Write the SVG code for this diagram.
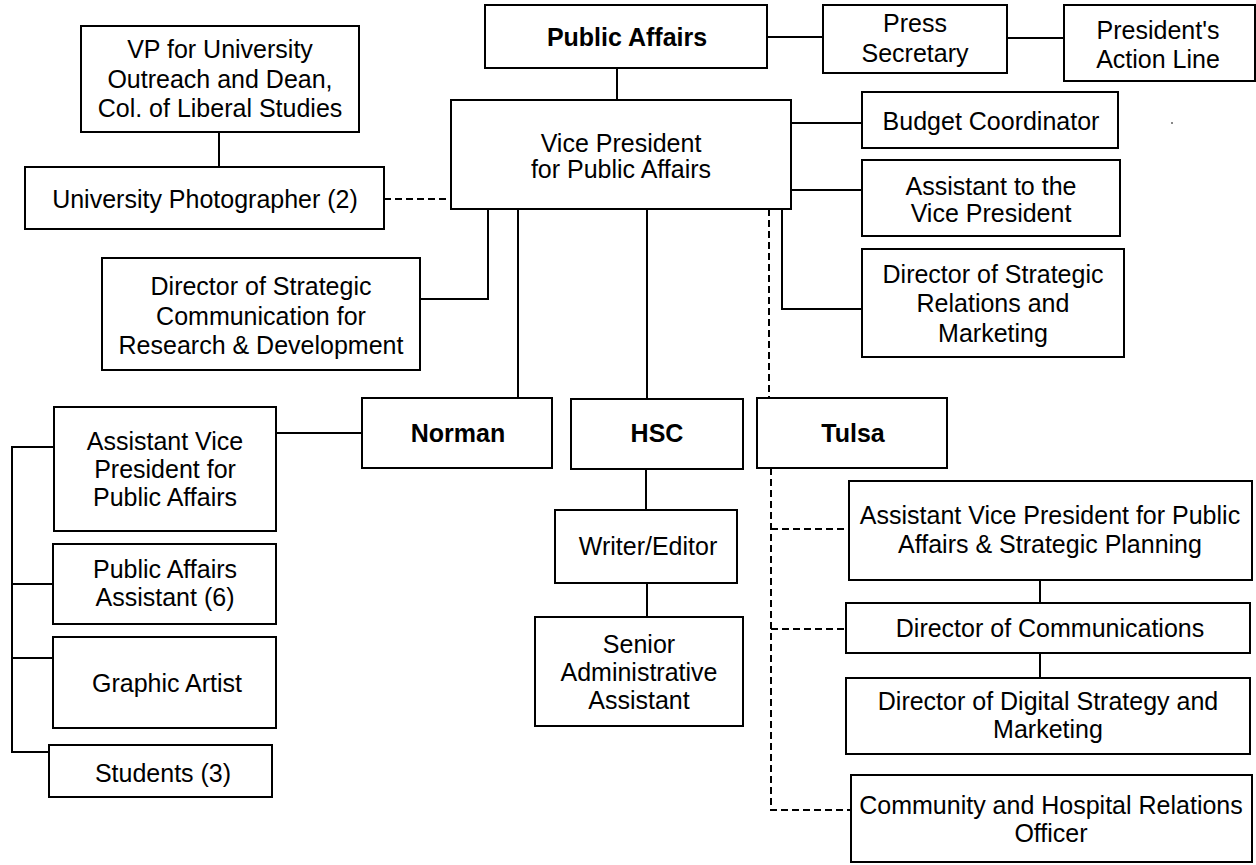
<svg xmlns="http://www.w3.org/2000/svg" width="1256" height="865" viewBox="0 0 1256 865">
<style>
  .box { fill: #ffffff; stroke: #000000; stroke-width: 2; }
  .t { font-family: "Liberation Sans", Arial, sans-serif; font-size: 25px; fill: #000000; text-anchor: middle; }
  .b { font-weight: bold; }
  .ln { fill: none; stroke: #000000; stroke-width: 2; }
  .dl { fill: none; stroke: #000000; stroke-width: 2; stroke-dasharray: 7 4; }
</style>
<rect x="0" y="0" width="1256" height="865" fill="#ffffff"/>
<g id="connectors">
  <path class="ln" d="M219 132 V167"/>
  <path class="ln" d="M617 68 V100"/>
  <path class="ln" d="M767 37 H823"/>
  <path class="ln" d="M1007 38 H1064"/>
  <path class="ln" d="M791 123 H862"/>
  <path class="ln" d="M791 190 H862"/>
  <path class="ln" d="M782 209 V309 H862"/>
  <path class="ln" d="M488 209 V299 H420"/>
  <path class="ln" d="M518 209 V398"/>
  <path class="ln" d="M647 209 V399"/>
  <path class="ln" d="M276 433 H362"/>
  <path class="ln" d="M54 447 H12 V752 H49"/>
  <path class="ln" d="M12 584 H53"/>
  <path class="ln" d="M12 658 H53"/>
  <path class="ln" d="M646 469 V510"/>
  <path class="ln" d="M647 583 V617"/>
  <path class="ln" d="M1040 580 V603"/>
  <path class="ln" d="M1040 653 V678"/>
  <path class="dl" d="M384 199 H451"/>
  <path class="dl" d="M769 209 V398"/>
  <path class="dl" d="M771 468 V810 H851"/>
  <path class="dl" d="M771 529 H849"/>
  <path class="dl" d="M771 629 H846"/>
</g>
<g id="vp-outreach">
  <rect class="box" x="81" y="26" width="278" height="106"/>
  <text class="t" x="220" y="58">VP for University</text>
  <text class="t" x="220" y="88">Outreach and Dean,</text>
  <text class="t" x="220" y="117">Col. of Liberal Studies</text>
</g>
<g id="photographer">
  <rect class="box" x="25" y="167" width="359" height="62"/>
  <text class="t" x="205" y="208">University Photographer (2)</text>
</g>
<g id="public-affairs">
  <rect class="box" x="485" y="5" width="282" height="63"/>
  <text class="t b" x="627" y="46">Public Affairs</text>
</g>
<g id="press-secretary">
  <rect class="box" x="823" y="5" width="184" height="68"/>
  <text class="t" x="915" y="32">Press</text>
  <text class="t" x="915" y="62">Secretary</text>
</g>
<g id="action-line">
  <rect class="box" x="1064" y="5" width="191" height="76"/>
  <text class="t" x="1158" y="39">President's</text>
  <text class="t" x="1158" y="68">Action Line</text>
</g>
<g id="vp">
  <rect class="box" x="451" y="100" width="340" height="109"/>
  <text class="t" x="621" y="152">Vice President</text>
  <text class="t" x="621" y="178">for Public Affairs</text>
</g>
<g id="budget">
  <rect class="box" x="862" y="92" width="256" height="56"/>
  <text class="t" x="991" y="130">Budget Coordinator</text>
</g>
<g id="assistant-vp">
  <rect class="box" x="862" y="160" width="258" height="76"/>
  <text class="t" x="991" y="195">Assistant to the</text>
  <text class="t" x="991" y="222">Vice President</text>
</g>
<g id="dir-relations">
  <rect class="box" x="862" y="249" width="262" height="108"/>
  <text class="t" x="993" y="283">Director of Strategic</text>
  <text class="t" x="993" y="312">Relations and</text>
  <text class="t" x="993" y="342">Marketing</text>
</g>
<g id="dir-research">
  <rect class="box" x="102" y="258" width="318" height="112"/>
  <text class="t" x="261" y="295">Director of Strategic</text>
  <text class="t" x="261" y="325">Communication for</text>
  <text class="t" x="261" y="354">Research &amp; Development</text>
</g>
<g id="norman">
  <rect class="box" x="362" y="398" width="190" height="70"/>
  <text class="t b" x="458" y="442">Norman</text>
</g>
<g id="hsc">
  <rect class="box" x="571" y="399" width="172" height="70"/>
  <text class="t b" x="657" y="442">HSC</text>
</g>
<g id="tulsa">
  <rect class="box" x="757" y="398" width="190" height="70"/>
  <text class="t b" x="853" y="442">Tulsa</text>
</g>
<g id="avp-norman">
  <rect class="box" x="54" y="407" width="222" height="124"/>
  <text class="t" x="165" y="450">Assistant Vice</text>
  <text class="t" x="165" y="478">President for</text>
  <text class="t" x="165" y="506">Public Affairs</text>
</g>
<g id="pa-assistant">
  <rect class="box" x="53" y="544" width="223" height="80"/>
  <text class="t" x="165" y="578">Public Affairs</text>
  <text class="t" x="165" y="606">Assistant (6)</text>
</g>
<g id="graphic-artist">
  <rect class="box" x="53" y="637" width="223" height="91"/>
  <text class="t" x="167" y="692">Graphic Artist</text>
</g>
<g id="students">
  <rect class="box" x="49" y="745" width="223" height="52"/>
  <text class="t" x="163" y="782">Students (3)</text>
</g>
<g id="writer-editor">
  <rect class="box" x="555" y="510" width="182" height="73"/>
  <text class="t" x="648" y="555">Writer/Editor</text>
</g>
<g id="senior-admin">
  <rect class="box" x="535" y="617" width="208" height="109"/>
  <text class="t" x="639" y="653">Senior</text>
  <text class="t" x="639" y="681">Administrative</text>
  <text class="t" x="639" y="709">Assistant</text>
</g>
<g id="avp-tulsa">
  <rect class="box" x="849" y="481" width="403" height="99"/>
  <text class="t" x="1050" y="524">Assistant Vice President for Public</text>
  <text class="t" x="1050" y="553">Affairs &amp; Strategic Planning</text>
</g>
<g id="dir-comm">
  <rect class="box" x="846" y="603" width="404" height="50"/>
  <text class="t" x="1050" y="637">Director of Communications</text>
</g>
<g id="dir-digital">
  <rect class="box" x="846" y="678" width="404" height="76"/>
  <text class="t" x="1048" y="710">Director of Digital Strategy and</text>
  <text class="t" x="1048" y="738">Marketing</text>
</g>
<g id="community">
  <rect class="box" x="851" y="775" width="401" height="87"/>
  <text class="t" x="1051" y="814">Community and Hospital Relations</text>
  <text class="t" x="1051" y="842">Officer</text>
</g>
<rect x="1171" y="122" width="2" height="2" fill="#888888"/>
</svg>
